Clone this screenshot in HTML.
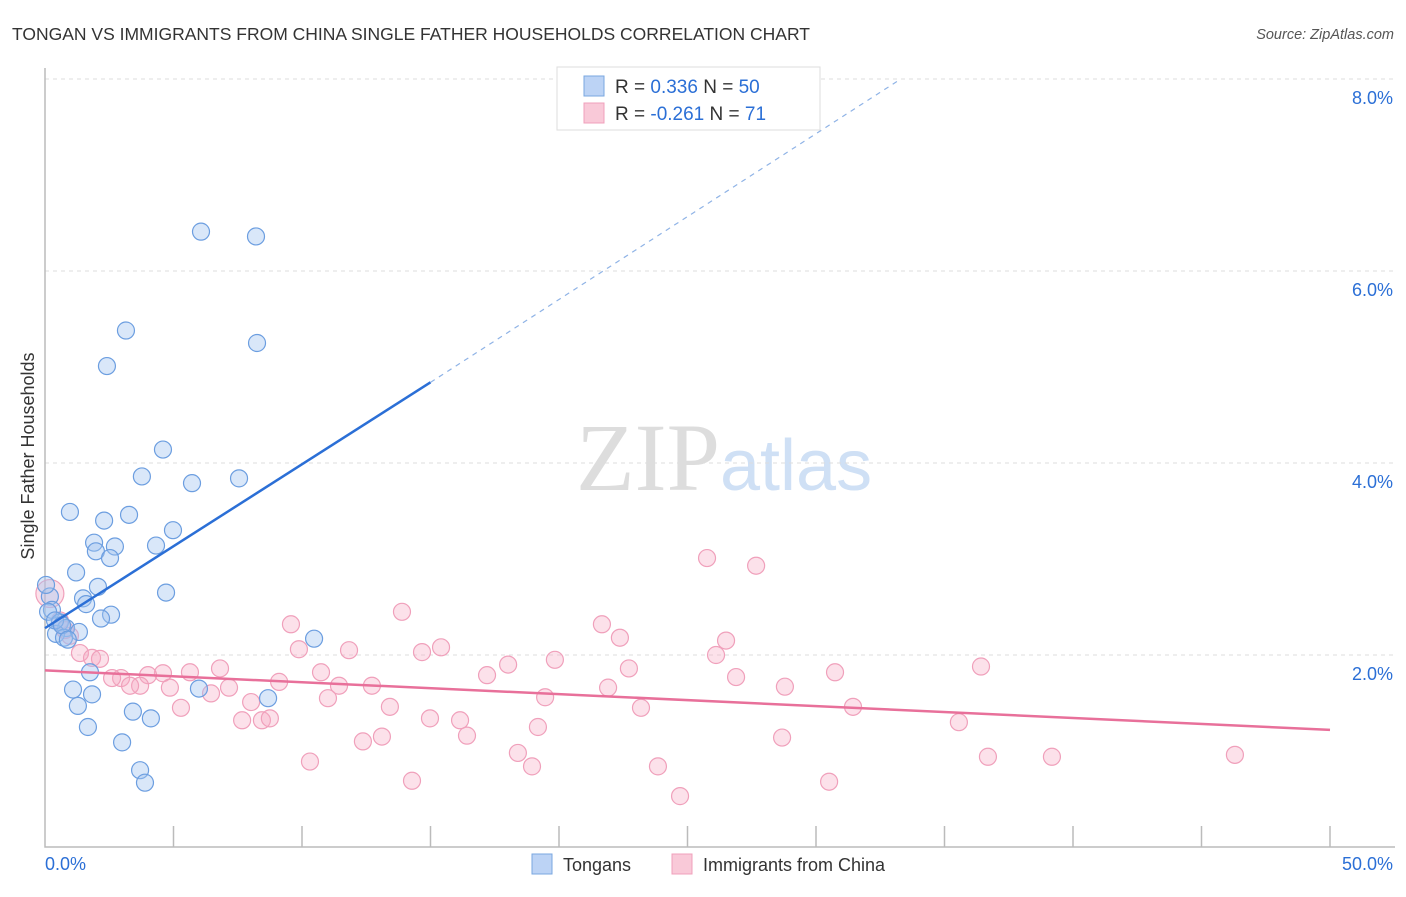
<!DOCTYPE html>
<html><head><meta charset="utf-8"><style>
body{margin:0;background:#fff;font-family:"Liberation Sans",sans-serif}
svg text{font-family:"Liberation Sans",sans-serif}
</style></head><body>
<svg id="chart" width="1406" height="892">
<text x="12" y="40" font-size="17.5" fill="#333">TONGAN VS IMMIGRANTS FROM CHINA SINGLE FATHER HOUSEHOLDS CORRELATION CHART</text>
<text x="1394" y="39" font-size="14.5" fill="#555" font-style="italic" text-anchor="end">Source: ZipAtlas.com</text>
<text x="720" y="490" font-size="96" fill="#ddd" text-anchor="end" font-family="Liberation Serif" style="font-family:'Liberation Serif',serif">ZIP</text>
<text x="720" y="490" font-size="72" fill="#cfe0f5">atlas</text>
<g id="grid"></g><g id="axes"></g><g id="pts"></g><g id="lines"></g>
<text transform="translate(34,456) rotate(-90)" font-size="18" fill="#333" text-anchor="middle">Single Father Households</text>
<g>
<rect x="557" y="67" width="263" height="63" fill="#fff" stroke="#ddd"/>
<rect x="584" y="76" width="20" height="20" fill="#bcd3f5" stroke="#7aa7e0"/>
<rect x="584" y="103" width="20" height="20" fill="#f9c9d8" stroke="#f0a0bb"/>
<text x="615" y="93" font-size="19" fill="#333">R = <tspan fill="#2b6fd6">0.336</tspan>   N = <tspan fill="#2b6fd6">50</tspan></text>
<text x="615" y="120" font-size="19" fill="#333">R = <tspan fill="#2b6fd6">-0.261</tspan>   N =  <tspan fill="#2b6fd6">71</tspan></text>
</g>
<g>
<rect x="532" y="854" width="20" height="20" fill="#bcd3f5" stroke="#7aa7e0"/>
<text x="563" y="871" font-size="18" fill="#333">Tongans</text>
<rect x="672" y="854" width="20" height="20" fill="#f9c9d8" stroke="#f0a0bb"/>
<text x="703" y="871" font-size="18" fill="#333">Immigrants from China</text>
</g>
</svg>
<script>
const yTicks=[2,4,6,8];
const yTickLabels=["2.0%","4.0%","6.0%","8.0%"];
const xTicks=[0,5,10,15,20,25,30,35,40,45,50];
const blueX=[6.07,8.21,3.15,8.25,2.41,4.59,3.77,5.72,7.55,0.97,2.30,3.27,4.98,1.91,2.72,4.32,1.98,2.53,1.21,2.06,4.71,0.19,1.48,1.60,2.57,2.18,0.27,0.12,0.58,0.82,1.32,0.43,0.74,10.47,1.75,1.09,1.83,5.99,8.68,1.28,3.42,4.12,1.67,3.00,3.70,3.89,0.39,0.66,0.04,0.89];
const blueY=[6.41,6.36,5.38,5.25,5.01,4.14,3.86,3.79,3.84,3.49,3.40,3.46,3.30,3.17,3.13,3.14,3.08,3.01,2.86,2.71,2.65,2.61,2.59,2.53,2.42,2.38,2.47,2.45,2.34,2.28,2.24,2.22,2.18,2.17,1.82,1.64,1.59,1.65,1.55,1.47,1.41,1.34,1.25,1.09,0.80,0.67,2.36,2.31,2.73,2.16];
const pinkX=[0.19,25.76,27.67,13.89,9.57,21.67,22.37,26.50,15.41,9.88,11.83,14.67,26.11,1.36,1.83,2.14,19.84,18.02,6.81,10.74,22.72,17.20,4.59,5.64,36.42,30.74,4.01,2.96,2.61,26.89,9.11,3.70,3.31,4.86,7.16,11.44,12.72,6.46,21.91,28.79,19.46,11.01,8.02,13.42,5.29,23.19,31.44,7.67,8.44,8.75,14.98,16.15,35.56,19.18,16.42,13.11,12.37,28.68,18.40,36.69,39.18,46.30,10.31,18.95,23.85,14.28,30.51,24.71,0.58,0.97,0.78];
const pinkY=[2.64,3.01,2.93,2.45,2.32,2.32,2.18,2.15,2.08,2.06,2.05,2.03,2.00,2.02,1.97,1.96,1.95,1.90,1.86,1.82,1.86,1.79,1.81,1.82,1.88,1.82,1.79,1.76,1.76,1.77,1.72,1.68,1.68,1.66,1.66,1.68,1.68,1.60,1.66,1.67,1.56,1.55,1.51,1.46,1.45,1.45,1.46,1.32,1.32,1.34,1.34,1.32,1.30,1.25,1.16,1.15,1.10,1.14,0.98,0.94,0.94,0.96,0.89,0.84,0.84,0.69,0.68,0.53,2.36,2.20,2.26];
const blueTrend=[[0,2.28],[15,4.84]];
const blueDash=[[15,4.84],[33.3,8.0]];
const pinkTrend=[[0,1.84],[50,1.22]];
const NS="http://www.w3.org/2000/svg";
const X=v=>45+v*25.7, Y=v=>847-v*96;
function mk(p,t,a){const e=document.createElementNS(NS,t);for(const k in a)e.setAttribute(k,a[k]);document.getElementById(p).appendChild(e);return e;}
yTicks.forEach((t,i)=>{
 const l=mk('grid','line',{x1:45,x2:1395,y1:Y(t),y2:Y(t),stroke:'#ddd','stroke-dasharray':'4,4'});
 
 
 const tx=mk('grid','text',{x:1393,y:Y(t)+25,'font-size':18,fill:'#2b6fd6','text-anchor':'end'});tx.textContent=yTickLabels[i];
 
 
});
const ax=mk('axes','path',{d:'M45,68V847H1395',fill:'none',stroke:'#bbb','stroke-width':1.5});


xTicks.forEach(t=>{if(t===0)return;const l=mk('axes','line',{x1:X(t),x2:X(t),y1:826,y2:847,stroke:'#bbb','stroke-width':1.5});
 
 });
const x0=mk('axes','text',{x:45,y:870,'font-size':18,fill:'#2b6fd6'});x0.textContent='0.0%';


const x1=mk('axes','text',{x:1393,y:870,'font-size':18,fill:'#2b6fd6','text-anchor':'end'});x1.textContent='50.0%';


pinkX.forEach((v,i)=>{const c=mk('pts','circle',{cx:X(v),cy:Y(pinkY[i]),r:i===0?14:8.5,fill:'rgba(245,170,195,0.35)',stroke:'#f0a0bb','stroke-width':1.2});
 
 });
blueX.forEach((v,i)=>{const c=mk('pts','circle',{cx:X(v),cy:Y(blueY[i]),r:8.5,fill:'rgba(160,195,240,0.4)',stroke:'#6c9ee0','stroke-width':1.2});
 
 });
function ln(p,col,w,dash,name){const e=mk('lines','line',{x1:X(p[0][0]),y1:Y(p[0][1]),x2:X(p[1][0]),y2:Y(p[1][1]),stroke:col,'stroke-width':w});if(dash)e.setAttribute('stroke-dasharray',dash);
 
 }
ln(blueTrend,'#2b6fd6',2.5,null,'tongan-trendline');
ln(blueDash,'#8fb3e6',1.2,'5,5','tongan-trend-extension');
ln(pinkTrend,'#e8709a',2.5,null,'china-trendline');
</script>
</body></html>
